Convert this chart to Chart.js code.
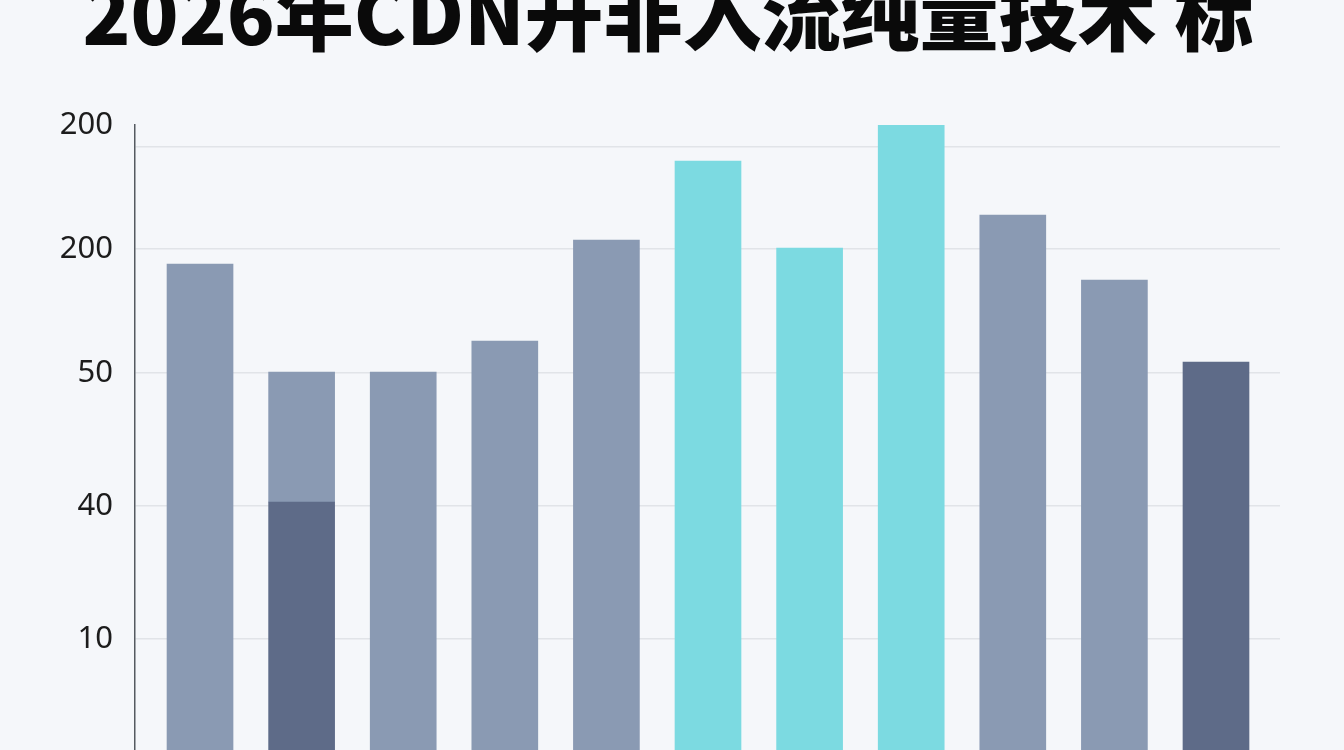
<!DOCTYPE html>
<html>
<head>
<meta charset="utf-8">
<script src="https://cdn.jsdelivr.net/npm/chart.js@4.4.1/dist/chart.umd.min.js"></script>
<style>
  html, body { margin: 0; padding: 0; background: #f5f7fa; overflow: hidden; }
  #wrap { width: 1344px; height: 750px; }
</style>
</head>
<body>
<div id="wrap"><canvas id="chart" width="1344" height="750"></canvas></div>
<script>
const titleText = "2026年CDN开非入流纯量技术 标";

// 11 bars, left to right
const categories = ["1", "2", "3", "4", "5", "6", "7", "8", "9", "10", "11"];
// base (dark slate) part, the grey part stacked on it, and the cyan highlights
const darkValues = [0, 248, 0, 0, 0, 0, 0, 0, 0, 0, 388];
const greyValues = [486, 130, 378, 409, 510, 0, 0, 0, 535, 470, 0];
const cyanValues = [0, 0, 0, 0, 0, 589, 502, 625, 0, 0, 0];

// y axis: where ticks sit on the scale and what they say
const tickValues = [111, 244, 377, 501, 603, 625];
const tickLabels = ["10", "40", "50", "200", "", "200"];

const toPoints = arr => arr.map((v, i) => ({ x: i, y: v === 0 ? null : v }));

const titlePlugin = {
  id: "topTitle",
  afterDraw(chart) {
    const ctx = chart.ctx;
    ctx.save();
    ctx.font = '900 79px "Noto Sans CJK SC", "Noto Sans", sans-serif';
    ctx.fillStyle = "#0a0a0a";
    ctx.textAlign = "center";
    ctx.textBaseline = "alphabetic";
    ctx.fillText(titleText, 668, 45);
    ctx.restore();
  }
};

new Chart(document.getElementById("chart"), {
  type: "bar",
  data: {
    labels: categories,
    datasets: [
      { label: "dark", data: toPoints(darkValues), backgroundColor: "#5e6b88" },
      { label: "grey", data: toPoints(greyValues), backgroundColor: "#8a9ab3" },
      { label: "cyan", data: toPoints(cyanValues), backgroundColor: "#7cdae1" }
    ]
  },
  options: {
    responsive: false,
    animation: false,
    layout: { padding: { left: 0, top: 125, right: 64, bottom: 0 } },
    datasets: { bar: { barThickness: 66 } },
    plugins: {
      legend: { display: false },
      tooltip: {
        callbacks: {
          title: items => categories[items[0].dataIndex]
        }
      }
    },
    scales: {
      x: {
        type: "linear",
        stacked: true,
        offset: false,
        min: -0.64,
        max: 10.63,
        display: false
      },
      y: {
        stacked: true,
        min: 0,
        max: 625,
        afterBuildTicks: scale => {
          scale.ticks = tickValues.map(v => ({ value: v }));
        },
        afterFit: scale => {
          scale.width = 135;
          scale.paddingTop = 0;
          scale.paddingBottom = 0;
        },
        ticks: {
          autoSkip: false,
          padding: 22,
          color: "#1c1c1c",
          font: { family: "'Noto Sans', sans-serif", size: 31 },
          callback: (value, index) => tickLabels[index]
        },
        grid: {
          drawTicks: false,
          lineWidth: 1.5,
          color: c => (c.tick && c.tick.value === 625 ? "rgba(0,0,0,0)" : "#e1e4e8")
        },
        border: { display: true, color: "#555a60", width: 1.5 }
      }
    }
  },
  plugins: [titlePlugin]
});
</script>
</body>
</html>
